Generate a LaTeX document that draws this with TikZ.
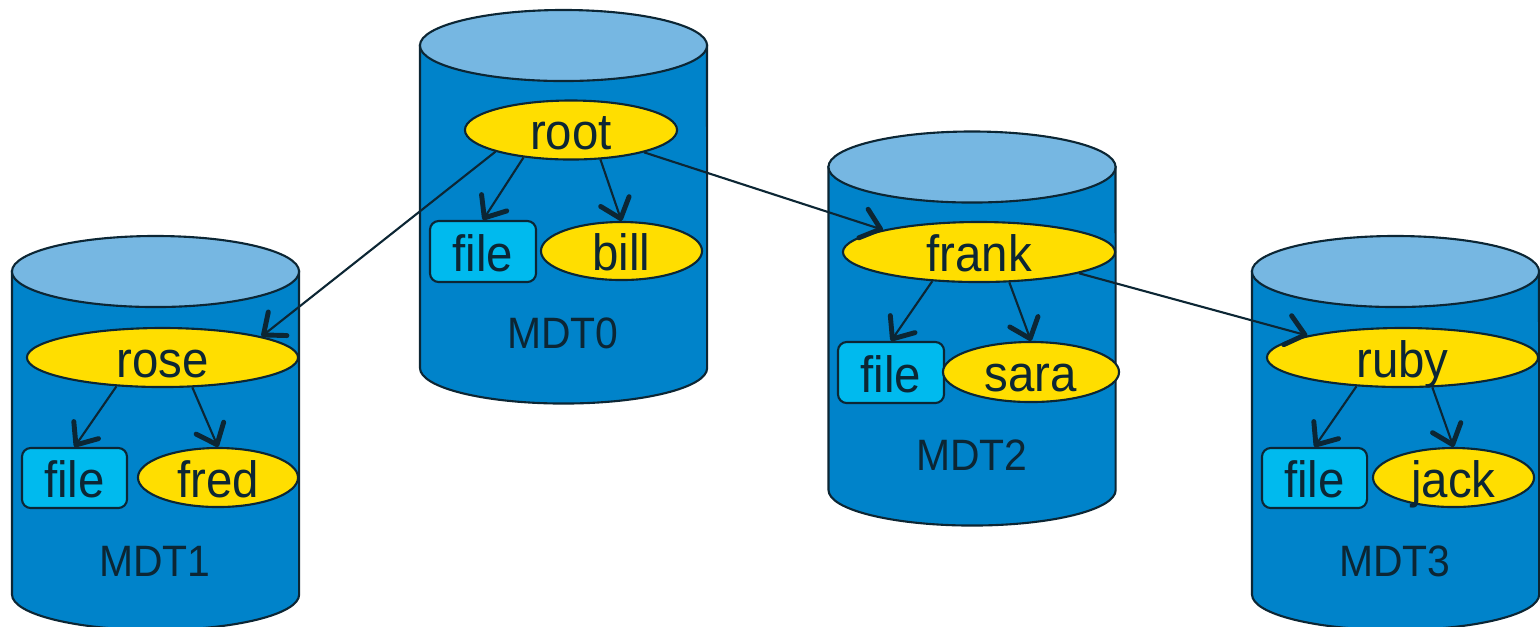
\documentclass[tikz,border=0pt]{standalone}
\usepackage{fontspec}
\setmainfont{Liberation Sans}[FakeStretch=0.93]
\usetikzlibrary{shapes.geometric,arrows.meta}

\definecolor{mdtbody}{RGB}{0,131,202}
\definecolor{mdttop}{RGB}{118,183,226}
\definecolor{dirfill}{RGB}{255,222,0}
\definecolor{filefill}{RGB}{0,186,238}
\definecolor{inkline}{RGB}{12,38,52}

\tikzset{
	drum/.style={draw=inkline, line width=0.6pt, fill=mdtbody},
	drumtop/.style={draw=inkline, line width=0.6pt, fill=mdttop},
	dir/.style={ellipse, draw=inkline, line width=0.6pt, fill=dirfill, inner sep=0pt,
		minimum height=0.59cm, text=inkline, font=\fontsize{14.5pt}{16pt}\selectfont,
		text height=11.2pt, text depth=0pt},
	filebox/.style={rectangle, rounded corners=2.5pt, draw=inkline, line width=0.6pt,
		fill=filefill, inner sep=0pt, minimum width=1.05cm, minimum height=0.6cm,
		text=inkline, font=\fontsize{14.5pt}{16pt}\selectfont, text height=11.2pt, text depth=0pt},
	mdtlabel/.style={text=inkline, inner sep=0pt, font=\fontsize{12.5pt}{14pt}\selectfont},
	link/.style={draw=inkline, line width=0.6pt,
		-{Straight Barb[length=1.8mm,width=3mm,line width=1.4pt,round]}}
}

\begin{document}
\begin{tikzpicture}[x=0.01cm,y=-0.01cm]
			\useasboundingbox (0,0) rectangle (1540,626);
			% the four MDT drums
			\filldraw[drum] (12,271.5) -- (12,594.5) arc[start angle=180,end angle=360,x radius=1.435cm,y radius=0.355cm] -- (299,271.5) -- cycle;
			\filldraw[drumtop] (155.5,271.5) ellipse [x radius=1.435cm,y radius=0.355cm];
			\filldraw[drum] (420,45.5) -- (420,368) arc[start angle=180,end angle=360,x radius=1.435cm,y radius=0.355cm] -- (707,45.5) -- cycle;
			\filldraw[drumtop] (563.5,45.5) ellipse [x radius=1.435cm,y radius=0.355cm];
			\filldraw[drum] (828.5,167) -- (828.5,490) arc[start angle=180,end angle=360,x radius=1.435cm,y radius=0.355cm] -- (1115.5,167) -- cycle;
			\filldraw[drumtop] (972,167) ellipse [x radius=1.435cm,y radius=0.355cm];
			\filldraw[drum] (1252,271.5) -- (1252,594.5) arc[start angle=180,end angle=360,x radius=1.435cm,y radius=0.355cm] -- (1539,271.5) -- cycle;
			\filldraw[drumtop] (1395.5,271.5) ellipse [x radius=1.435cm,y radius=0.355cm];
			% MDT0
			\node[dir, minimum width=2.12cm] (root) at (571,130) {root};
			\node[filebox, minimum width=1.06cm, minimum height=0.61cm] (file0) at (483,251.5) {file};
			\node[dir, minimum width=1.61cm, minimum height=0.58cm] (bill) at (621.5,251) {bill};
			\node[mdtlabel] (mdt0) at (563,333) {MDT0};
			% MDT1
			\node[dir, minimum width=2.71cm] (rose) at (162.5,357.5) {rose};
			\node[filebox] (file1) at (74.5,478) {file};
			\node[dir, minimum width=1.6cm] (fred) at (218,477.5) {fred};
			\node[mdtlabel] (mdt1) at (155,561) {MDT1};
			% MDT2
			\node[dir, minimum width=2.72cm, minimum height=0.6cm] (frank) at (979,252) {frank};
			\node[filebox, minimum width=1.06cm, minimum height=0.61cm] (file2) at (891,372.5) {file};
			\node[dir, minimum width=1.76cm, minimum height=0.6cm] (sara) at (1031,372) {sara};
			\node[mdtlabel] (mdt2) at (972,455) {MDT2};
			% MDT3
			\node[dir, minimum width=2.71cm] (ruby) at (1402.5,357.5) {ruby};
			\node[filebox] (file3) at (1314.5,478) {file};
			\node[dir, minimum width=1.61cm] (jack) at (1453.5,477.5) {jack};
			\node[mdtlabel] (mdt3) at (1395,561.5) {MDT3};
			% links inside each drum
			\draw[link] (root.210) -- (file0.north);
			\draw[link] (root.315) -- (bill.north);
			\draw[link] (rose.212) -- (file1.north);
			\draw[link] (rose.315) -- (fred.north);
			\draw[link] (frank.212) -- (file2.north);
			\draw[link] (frank.315) -- (sara.north);
			\draw[link] (ruby.212) -- (file3.north);
			\draw[link] (ruby.315) -- (jack.north);
			% links between drums
			\draw[link] (root.196) -- (rose.12);
			\draw[link] (root.343) -- (frank.167);
			\draw[link] (frank.348) -- (ruby.167);
		\end{tikzpicture}
\end{document}
